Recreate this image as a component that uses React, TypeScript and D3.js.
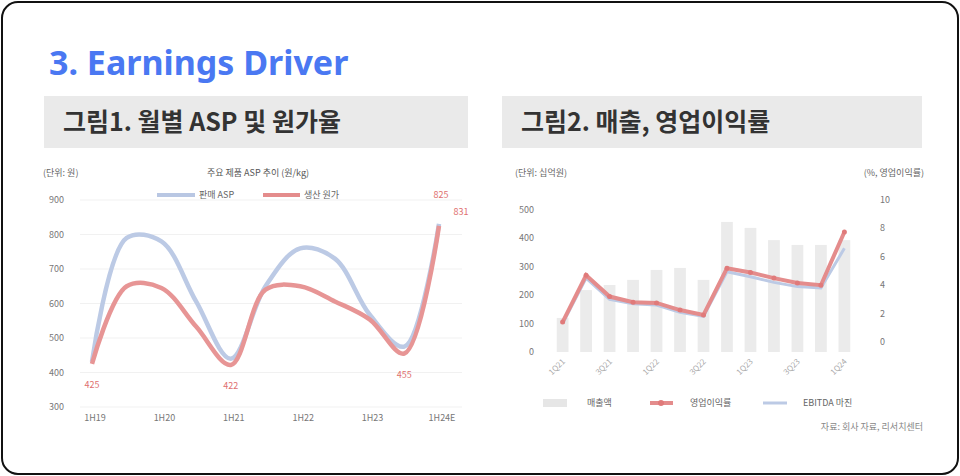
import * as d3 from "d3";

const W = 960;
const H = 476;
const sans = "'Noto Sans CJK KR', 'Noto Sans', sans-serif";

// left panel: half-year ASP vs cost
const halfYears = ["1H19", "2H19", "1H20", "2H20", "1H21", "2H21", "1H22", "2H22", "1H23", "2H23", "1H24"];
const halfLabels = ["1H19", "1H20", "1H21", "1H22", "1H23", "1H24E"];
const aspValues = [431, 790, 780, 606, 440, 650, 760, 730, 568, 475, 831];
const costValues = [425, 650, 645, 533, 422, 640, 650, 606, 554, 455, 825];
const costLabelIdx = [0, 4, 9];
const aspTicks = [300, 400, 500, 600, 700, 800, 900];

// right panel: quarterly sales and margins
const quarters = ["1Q21", "2Q21", "3Q21", "4Q21", "1Q22", "2Q22", "3Q22", "4Q22", "1Q23", "2Q23", "3Q23", "4Q23", "1Q24"];
const salesValues = [120, 218, 236, 254, 289, 296, 254, 458, 437, 394, 377, 377, 394];
const opmValues = [1.4, 4.7, 3.2, 2.8, 2.75, 2.25, 1.9, 5.2, 4.9, 4.5, 4.15, 4.0, 7.75];
const ebitdaValues = [1.3, 4.5, 3.0, 2.7, 2.6, 2.1, 1.8, 4.95, 4.6, 4.2, 3.9, 3.8, 6.6];
const salesTicks = [0, 100, 200, 300, 400, 500];
const marginTicks = [0, 2, 4, 6, 8, 10];

function Header({ x, w, text }: { x: number; w: number; text: string }) {
  return (
    <g>
      <rect x={x} y={96} width={w} height={52} fill="#eaeaea" />
      <text x={x + 19} y={131} fontSize={25} fontWeight={700} fill="#333" fontFamily={sans}>
        {text}
      </text>
    </g>
  );
}

function LeftChart() {
  const x = d3.scalePoint(halfYears, [92, 439]);
  const y = d3.scaleLinear([300, 900], [407, 200]);
  const line = d3
    .line<number>()
    .x((_, i) => x(halfYears[i]) ?? 0)
    .y((d) => y(d))
    .curve(d3.curveCatmullRom.alpha(0.5));
  const last = halfYears.length - 1;
  return (
    <g fontFamily={sans}>
      <text x={43} y={176} fontSize={9} fill="#666">(단위: 원)</text>
      <text x={258} y={176} fontSize={9} fill="#555" textAnchor="middle">주요 제품 ASP 추이 (원/kg)</text>
      {aspTicks.map((t) => (
        <g key={t}>
          <line x1={80} x2={462} y1={y(t)} y2={y(t)} stroke="#f1f1f1" />
          <text x={64} y={y(t) + 3} fontSize={9} fill="#777" textAnchor="end">{t}</text>
        </g>
      ))}
      {halfYears.map((h, i) =>
        i % 2 === 0 ? (
          <text key={h} x={(x(h) ?? 0) + 3} y={421} fontSize={9} fill="#777" textAnchor="middle">
            {halfLabels[i / 2]}
          </text>
        ) : null
      )}
      <line x1={157} x2={195} y1={195} y2={195} stroke="#b9c7e3" strokeWidth={4} />
      <text x={199} y={198} fontSize={9} fill="#666">판매 ASP</text>
      <line x1={263} x2={300} y1={195} y2={195} stroke="#e48c8c" strokeWidth={4} />
      <text x={304} y={198} fontSize={9} fill="#666">생산 원가</text>
      <path d={line(aspValues) ?? ""} fill="none" stroke="#bccae5" strokeWidth={4.5} />
      <path d={line(costValues) ?? ""} fill="none" stroke="#e79595" strokeWidth={4.5} />
      {costLabelIdx.map((i) => (
        <text key={i} x={x(halfYears[i])} y={y(costValues[i]) + 24} fontSize={9} fill="#e07070" textAnchor="middle">
          {costValues[i]}
        </text>
      ))}
      <text x={(x(halfYears[last]) ?? 0) + 2} y={y(costValues[last]) - 28} fontSize={9} fill="#e07070" textAnchor="middle">
        {costValues[last]}
      </text>
      <text x={(x(halfYears[last]) ?? 0) + 22} y={y(aspValues[last]) - 9} fontSize={9} fill="#e07070" textAnchor="middle">
        {aspValues[last]}
      </text>
    </g>
  );
}

function RightChart() {
  const x = d3.scaleBand(quarters, [545, 862]).padding(0.5);
  const yL = d3.scaleLinear([0, 500], [352, 210]);
  const yR = d3.scaleLinear([0, 10], [342, 200]);
  const cx = (i: number) => (x(quarters[i]) ?? 0) + x.bandwidth() / 2;
  const line = d3
    .line<number>()
    .x((_, i) => cx(i))
    .y((d) => yR(d));
  return (
    <g fontFamily={sans}>
      <text x={515} y={176} fontSize={9} fill="#666">(단위: 십억원)</text>
      <text x={924} y={176} fontSize={9} fill="#666" textAnchor="end">(%, 영업이익률)</text>
      {salesTicks.map((t) => (
        <text key={t} x={534} y={yL(t) + 3} fontSize={9} fill="#777" textAnchor="end">{t}</text>
      ))}
      {marginTicks.map((t) => (
        <text key={t} x={880} y={yR(t) + 3} fontSize={9} fill="#777">{t}</text>
      ))}
      {quarters.map((q, i) => (
        <rect
          key={q}
          x={x(q)}
          y={yL(salesValues[i])}
          width={x.bandwidth()}
          height={yL(0) - yL(salesValues[i])}
          fill="#ebebeb"
        />
      ))}
      {quarters.map((q, i) =>
        i % 2 === 0 ? (
          <text
            key={q}
            transform={`translate(${cx(i) + 3},${362}) rotate(-45)`}
            fontSize={8}
            fill="#aaa"
            textAnchor="end"
          >
            {q}
          </text>
        ) : null
      )}
      <path d={line(ebitdaValues) ?? ""} fill="none" stroke="#bccae5" strokeWidth={3} />
      <path d={line(opmValues) ?? ""} fill="none" stroke="#e48c8c" strokeWidth={4} />
      {opmValues.map((v, i) => (
        <circle key={i} cx={cx(i)} cy={yR(v)} r={2.5} fill="#e07a7a" />
      ))}
      <rect x={543} y={399} width={24} height={8} fill="#e6e6e6" />
      <text x={587} y={406} fontSize={9} fill="#666">매출액</text>
      <line x1={650} x2={673} y1={403} y2={403} stroke="#e48c8c" strokeWidth={4} />
      <circle cx={661} cy={403} r={3} fill="#e07a7a" />
      <text x={690} y={406} fontSize={9} fill="#666">영업이익률</text>
      <line x1={763} x2={787} y1={403} y2={403} stroke="#bccae5" strokeWidth={3} />
      <text x={803} y={406} fontSize={9} fill="#666">EBITDA 마진</text>
      <text x={923} y={430} fontSize={9} fill="#888" textAnchor="end">자료: 회사 자료, 리서치센터</text>
    </g>
  );
}

export default function App() {
  return (
    <svg
      width={W}
      height={H}
      viewBox={`0 0 ${W} ${H}`}
      style={{ position: "absolute", left: 0, top: 0, background: "#fff" }}
    >
      <rect x={2} y={2} width={W - 4} height={H - 4} rx={16} fill="#fff" stroke="#111" strokeWidth={2} />
      <text x={49} y={75} fontSize={34} fontWeight={700} fill="#4a78f2" fontFamily="'Noto Sans', sans-serif">
        3. Earnings Driver
      </text>
      <Header x={44} w={424} text="그림1. 월별 ASP 및 원가율" />
      <Header x={502} w={420} text="그림2. 매출, 영업이익률" />
      <LeftChart />
      <RightChart />
    </svg>
  );
}
